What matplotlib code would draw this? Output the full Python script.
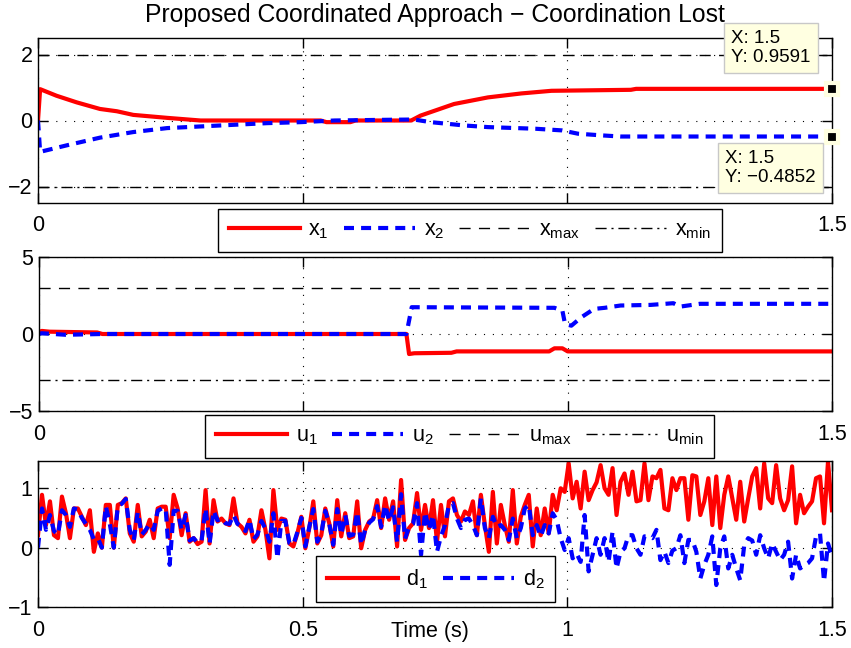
import numpy as np
import matplotlib
matplotlib.use("Agg")
import matplotlib.pyplot as plt

# ---- data ----
# states
x1_time = [0, 0.004, 0.035, 0.073, 0.117, 0.149, 0.18, 0.244, 0.307, 0.534, 0.545, 0.59, 0.60,
           0.705, 0.723, 0.786, 0.85, 0.913, 0.97, 1.12, 1.13, 1.5]
x1_vals = [0, 0.95, 0.75, 0.55, 0.35, 0.28, 0.17, 0.08, 0.0, 0.0, -0.05, -0.05, 0.0,
           0.0, 0.15, 0.50, 0.70, 0.82, 0.90, 0.93, 0.9591, 0.9591]
x2_time = [0, 0.004, 0.055, 0.117, 0.18, 0.244, 0.307, 0.37, 0.433, 0.496, 0.56, 0.654, 0.71,
           0.742, 0.805, 0.85, 0.94, 0.99, 1.02, 1.064, 1.1, 1.5]
x2_vals = [0.0, -0.95, -0.75, -0.52, -0.35, -0.23, -0.18, -0.13, -0.08, -0.05, 0.0, 0.02, 0.03,
           -0.05, -0.15, -0.2, -0.25, -0.3, -0.4, -0.45, -0.4852, -0.4852]
x_max, x_min = 2, -2

# inputs
u1_time = [0, 0.005, 0.02, 0.11, 0.12, 0.695, 0.70, 0.71, 0.78, 0.79, 0.965, 0.975, 0.99, 1.0, 1.5]
u1_vals = [0.1, 0.2, 0.15, 0.1, 0.0, 0.0, -1.3, -1.25, -1.22, -1.13, -1.13, -0.93, -0.93, -1.13, -1.13]
u2_time = [0, 0.005, 0.05, 0.12, 0.695, 0.705, 0.975, 0.99, 0.995, 1.007, 1.026, 1.05, 1.07,
           1.1, 1.157, 1.2, 1.213, 1.25, 1.5]
u2_vals = [0.0, 0.05, -0.05, 0.0, 0.0, 1.74, 1.7, 1.52, 0.65, 0.54, 1.09, 1.63, 1.7,
           1.85, 1.89, 2.0, 1.78, 1.96, 1.96]
u_max, u_min = 3, -3

# disturbances (sampled evenly over 0..1.5 s)
d1_vals = [
    # 0 - 0.38 s
    0.21, 0.89, 0.38, 0.78, 0.21, 0.16, 0.86, 0.58, 0.16, 0.66, 0.66, 0.52, 0.38, 0.63, -0.07, 0.24,
    0.0, 0.72, 0.72, 0.0, 0.72, 0.75, 0.83, 0.24, 0.10, 0.72, 0.19, 0.27, 0.47, 0.16, 0.66, 0.69,
    0.69, 0.16, 0.89, 0.66, 0.21, 0.58, 0.10, 0.16, 0.06, 0.10, 0.97, 0.07, 0.80, 0.44, 0.49, 0.41,
    # 0.38 - 0.75 s
    0.38, 0.83, 0.41, 0.35, 0.24, 0.47, 0.10, 0.19, 0.63, 0.30, -0.18, 0.97, 0.30, 0.49, 0.47, 0.07,
    0.02, 0.24, 0.52, -0.01, 0.33, 0.78, 0.07, 0.21, 0.66, 0.41, 0.02, 0.80, 0.19, 0.58, 0.16, 0.19,
    0.78, -0.01, 0.30, 0.44, 0.49, 0.80, 0.33, 0.83, 0.47, 0.78, 0.02, 1.14, 0.13, 0.33, 0.41, 0.92,
    0.30, 0.72,
    # 0.75 - 1.0 s
    0.33, 0.80, 0.10, 0.72, 0.19, 0.78, 0.83, 0.55, 0.44, 0.61, 0.55, 0.78, 0.21, 0.89, 0.38, -0.07,
    0.94, 0.07, 0.72, 0.38, 0.10, 0.97, 0.07, 0.52, 0.72, 0.89, 0.02, 0.66, 0.21, 0.66, 0.24, 0.89,
    0.63, 1.00,
    # 1.0 - 1.13 s
    0.94, 1.42, 0.83, 1.11, 0.66, 1.28, 0.80, 0.97, 1.10, 1.39, 1.00, 0.89, 1.34, 0.55, 1.11, 1.25,
    0.89,
    # 1.13 - 1.5 s
    1.28, 0.78, 0.80, 1.42, 0.80, 1.20, 1.17, 1.31, 0.66, 0.63, 1.17, 0.97, 1.17, 1.17, 0.47, 1.22,
    1.20, 0.55, 0.78, 1.17, 0.38, 1.20, 0.33, 0.89, 1.20, 0.83, 0.47, 1.11, 0.44, 0.83, 1.20, 1.34,
    0.66, 1.42, 0.83, 0.75, 1.39, 0.83, 0.63, 0.80, 1.37, 0.41, 0.89, 0.58, 0.69, 0.78, 1.17, 1.20,
    0.41, 1.45, 0.63,
]
d2_vals = [
    0.0, 0.66, 0.30, 0.55, 0.28, 0.22, 0.63, 0.55, 0.35, 0.66, 0.64, 0.50, 0.40, 0.30, 0.14, 0.16,
    0.0, 0.70, 0.40, 0.0, 0.70, 0.74, 0.82, 0.30, 0.12, 0.60, 0.22, 0.30, 0.40, 0.30, 0.62, 0.66,
    0.66, -0.29, 0.62, 0.62, 0.30, 0.55, 0.12, 0.16, 0.08, 0.12, 0.66, 0.07, 0.62, 0.46, 0.49, 0.41,
    0.40, 0.55, 0.40, 0.36, 0.28, 0.47, 0.14, 0.22, 0.45, 0.32, 0.10, 0.58, -0.18, 0.45, 0.45, 0.08,
    0.05, 0.26, 0.50, 0.02, 0.35, 0.65, 0.10, 0.24, 0.62, 0.40, 0.05, 0.65, 0.22, 0.55, 0.20, 0.22,
    0.60, 0.05, 0.30, 0.42, 0.48, 0.70, 0.35, 0.72, 0.45, 0.68, 0.10, 0.90, 0.15, 0.35, 0.40, 0.75,
    -0.12, 0.60,
    0.30, 0.55, -0.07, 0.19, 0.38, 0.72, 0.75, 0.49, 0.33, 0.47, 0.49, 0.38, 0.21, 0.83, 0.33, 0.16,
    0.52, 0.35, 0.38, 0.30, 0.13, 0.49, 0.16, 0.33, 0.66, 0.72, 0.21, 0.38, 0.19, 0.38, 0.24, 0.58,
    0.47, 0.16,
    -0.04, 0.16, -0.18, -0.10, -0.24, 0.55, -0.40, -0.12, 0.16, -0.12, 0.16, -0.24, 0.27, -0.35, -0.07, -0.01,
    0.21,
    0.21, -0.01, -0.12, 0.19, 0.19, 0.16, 0.30, -0.21, -0.07, -0.26, -0.05, -0.01, 0.21, -0.26, 0.13, 0.13,
    -0.07, -0.52, -0.29, -0.12, 0.19, -0.63, -0.01, 0.19, -0.35, -0.12, -0.35, -0.55, 0.04, 0.16, 0.12, -0.12,
    0.21, -0.01, -0.18, 0.07, -0.07, -0.21, -0.12, 0.10, -0.52, -0.12, -0.35, -0.30, -0.26, -0.18, 0.19, 0.24,
    -0.57, 0.07, -0.15,
]
d_time = np.linspace(0, 1.5, len(d1_vals))

x_ticks = [0, 0.5, 1, 1.5]
x_ticklabels = ["0", "0.5", "1", "1.5"]
# the middle labels of the two upper panels sit behind their legends
x_ticklabels_hidden = ["0", "", "", "1.5"]

# ---- styling ----
plt.rcParams["font.family"] = "Liberation Sans"
plt.rcParams["mathtext.fontset"] = "custom"
plt.rcParams["mathtext.rm"] = "Liberation Sans"
plt.rcParams["mathtext.it"] = "Liberation Sans"
plt.rcParams["font.size"] = 15.5

W, H = 851, 648
fig = plt.figure(figsize=(W / 100, H / 100), dpi=100)


def add_px_axes(left, top, right, bottom):
    return fig.add_axes([left / W, 1 - bottom / H, (right - left) / W, (bottom - top) / H])


def fig_xy(x, y):
    return (x / W, 1 - y / H)


blue_dash = (2.4, 1.7)
lim_dash = (0, (8, 6))
lim_dashdot = (0, (8, 3.5, 1.5, 3.5))


def style_axes(ax, ylim, yticks, xlabels):
    ax.set_xlim(0, 1.5)
    ax.set_ylim(*ylim)
    ax.set_xticks(x_ticks)
    ax.set_xticklabels(xlabels)
    ax.set_yticks(yticks)
    ax.tick_params(direction="in", top=True, right=True, length=7, width=1)
    ax.tick_params(axis="x", pad=9)
    ax.tick_params(axis="y", pad=4)
    ax.grid(True, color="k", linestyle=(0, (1, 7)), linewidth=0.8)
    for s in ax.spines.values():
        s.set_linewidth(1.0)


def add_legend(ax, lines, labels, center, ncol):
    leg = ax.legend(lines, labels, loc="center", bbox_to_anchor=fig_xy(*center),
                    bbox_transform=fig.transFigure, ncol=ncol, handlelength=3.3,
                    handletextpad=0.4, columnspacing=0.7, borderpad=0.5,
                    fancybox=False, framealpha=1, edgecolor="k")
    leg.get_frame().set_linewidth(1.0)
    leg.set_zorder(10)
    return leg


# ---- panel 1: states ----
ax1 = add_px_axes(38, 38, 832, 203)
l1, = ax1.plot(x1_time, x1_vals, color="red", lw=3)
l2, = ax1.plot(x2_time, x2_vals, color="blue", lw=3, dashes=blue_dash)
l3 = ax1.axhline(x_max, color="k", lw=1, linestyle=lim_dash)
l4 = ax1.axhline(x_min, color="k", lw=1, linestyle=lim_dashdot)
style_axes(ax1, (-2.5, 2.5), [-2, 0, 2], x_ticklabels_hidden)
ax1.set_title("Proposed Coordinated Approach \u2212 Coordination Lost", pad=11.5, fontsize=17.8)
add_legend(ax1, [l1, l2, l3, l4],
           ["x$_1$", "x$_2$", r"x$_{\mathrm{max}}$", r"x$_{\mathrm{min}}$"], (470, 230.5), 4)

# data tips at t = 1.5
ax1.plot([1.5, 1.5], [x1_vals[-1], x2_vals[-1]], ls="none", marker="s", ms=8,
         mfc="k", mec="#FFFFE1", mew=3, clip_on=False, zorder=6)
tip_box = dict(boxstyle="square,pad=0.4", fc="#FFFFE1", ec="#C8C8C8", lw=1)
fig.text(*fig_xy(731, 30), "X: %.1f\nY: %.4f" % (x1_time[-1], x1_vals[-1]),
         fontsize=13.5, va="top", ha="left", bbox=tip_box, linespacing=1.15)
fig.text(*fig_xy(725, 150), "X: %.1f\nY: \u2212%.4f" % (x2_time[-1], -x2_vals[-1]),
         fontsize=13.5, va="top", ha="left", bbox=tip_box, linespacing=1.15)

# ---- panel 2: inputs ----
ax2 = add_px_axes(39, 257, 832, 411)
m1, = ax2.plot(u1_time, u1_vals, color="red", lw=3)
m2, = ax2.plot(u2_time, u2_vals, color="blue", lw=3, dashes=blue_dash)
m3 = ax2.axhline(u_max, color="k", lw=1, linestyle=lim_dash)
m4 = ax2.axhline(u_min, color="k", lw=1, linestyle=lim_dashdot)
style_axes(ax2, (-5, 5), [-5, 0, 5], x_ticklabels_hidden)
add_legend(ax2, [m1, m2, m3, m4],
           ["u$_1$", "u$_2$", r"u$_{\mathrm{max}}$", r"u$_{\mathrm{min}}$"], (459.5, 436.5), 4)

# ---- panel 3: disturbances ----
ax3 = add_px_axes(38, 461, 832, 607)
ax3.set_zorder(-1)
n1, = ax3.plot(d_time, d1_vals, color="red", lw=3)
n2, = ax3.plot(d_time, d2_vals, color="blue", lw=3, dashes=blue_dash)
style_axes(ax3, (-1, 1.46), [-1, 0, 1], x_ticklabels)
add_legend(ax3, [n1, n2], ["d$_1$", "d$_2$"], (435.5, 579), 2)

fig.text(*fig_xy(430, 632), "Time (s)", ha="center", va="center")

fig.savefig("out.png", dpi=100)
